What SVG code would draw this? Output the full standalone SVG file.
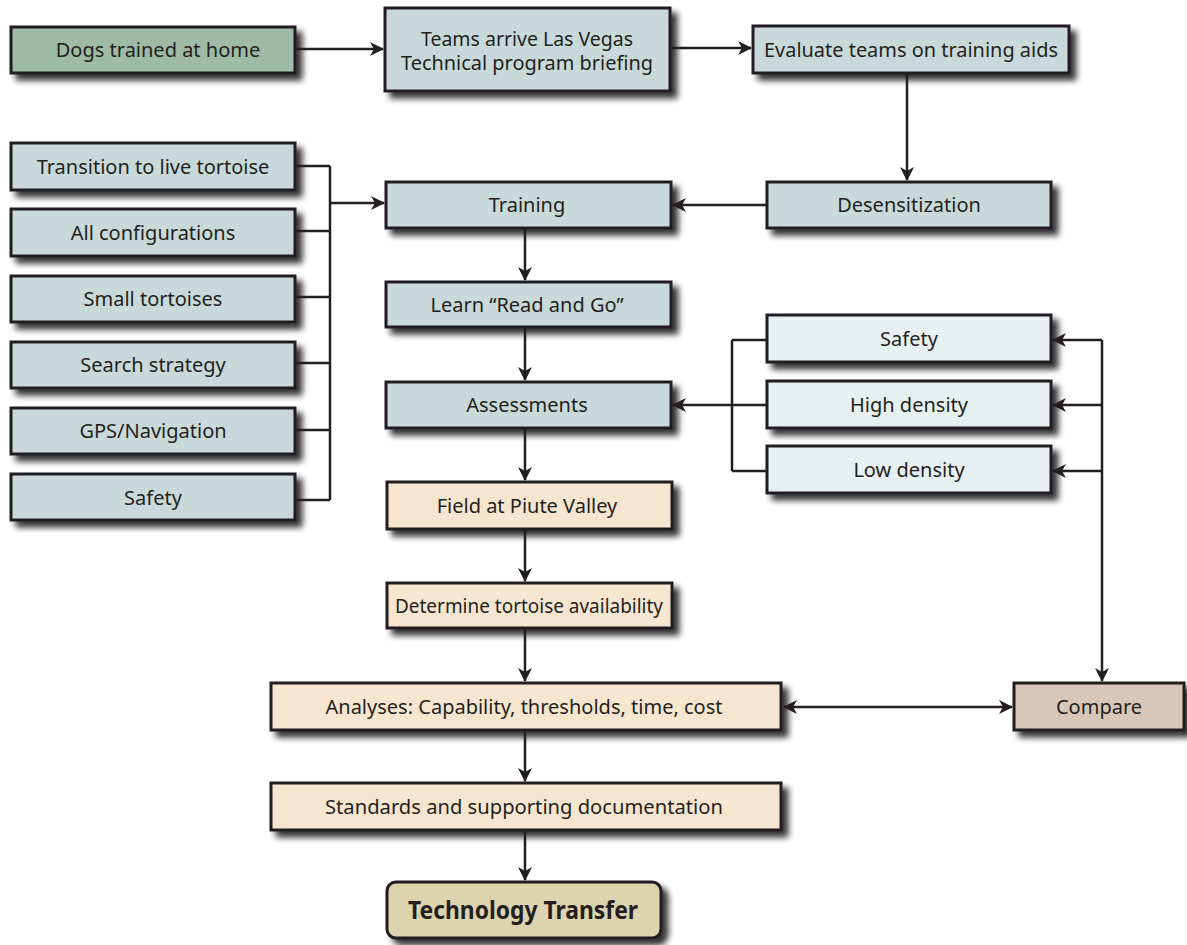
<svg xmlns="http://www.w3.org/2000/svg" width="1187" height="945" viewBox="0 0 1187 945">
<defs>
<filter id="sh" x="-10%" y="-20%" width="130%" height="160%">
<feGaussianBlur in="SourceAlpha" stdDeviation="3"/>
<feOffset dx="6" dy="6" result="b"/>
<feComponentTransfer><feFuncA type="linear" slope="0.8"/></feComponentTransfer>
<feMerge><feMergeNode/><feMergeNode in="SourceGraphic"/></feMerge>
</filter>
<marker id="ah" viewBox="0 0 14 14" refX="13" refY="7" markerWidth="14" markerHeight="14" markerUnits="userSpaceOnUse" orient="auto-start-reverse">
<path d="M0,0 L14,7 L0,14 L4,7 z" fill="#231f20"/>
</marker>
</defs>
<style>
.b{stroke:#231f20;stroke-width:3;filter:url(#sh)}
.bg{fill:#c9d9d9}
.lt{fill:#e7f0f1}
.gr{fill:#9dbba5}
.tn{fill:#f6e6cf}
.cp{fill:#d8c7b9}
.tt{fill:#ddd3ae}
text{font-family:"Noto Sans","Open Sans","Liberation Sans",sans-serif;font-size:20px;fill:#231f20;text-anchor:middle}
.c{stroke:#231f20;stroke-width:2.5;fill:none}
.a{marker-end:url(#ah)}
</style>
<rect width="1187" height="945" fill="#ffffff"/>

<g id="n-dogs"><rect class="b gr" x="11" y="27" width="284" height="46"/><text x="158" y="57">Dogs trained at home</text></g>
<g id="n-teams"><rect class="b bg" x="385" y="8" width="285" height="83"/><text x="527" y="46" style="font-size:19px" textLength="212" lengthAdjust="spacingAndGlyphs">Teams arrive Las Vegas</text><text x="527" y="70" style="font-size:19px" textLength="252" lengthAdjust="spacingAndGlyphs">Technical program briefing</text></g>
<g id="n-evaluate"><rect class="b bg" x="753" y="26" width="316" height="47"/><text x="911" y="57" textLength="294" lengthAdjust="spacingAndGlyphs">Evaluate teams on training aids</text></g>

<g id="n-transition"><rect class="b bg" x="11" y="143" width="284" height="47"/><text x="153" y="174">Transition to live tortoise</text></g>
<g id="n-allconfig"><rect class="b bg" x="11" y="209" width="284" height="47"/><text x="153" y="240">All configurations</text></g>
<g id="n-small"><rect class="b bg" x="11" y="276" width="284" height="46"/><text x="153" y="306">Small tortoises</text></g>
<g id="n-search"><rect class="b bg" x="11" y="342" width="284" height="46"/><text x="153" y="372">Search strategy</text></g>
<g id="n-gps"><rect class="b bg" x="11" y="408" width="284" height="46"/><text x="153" y="438">GPS/Navigation</text></g>
<g id="n-safety-left"><rect class="b bg" x="11" y="474" width="284" height="46"/><text x="153" y="505">Safety</text></g>

<g id="n-training"><rect class="b bg" x="386" y="182" width="285" height="46"/><text x="527" y="212">Training</text></g>
<g id="n-desens"><rect class="b bg" x="767" y="182" width="284" height="46"/><text x="909" y="212">Desensitization</text></g>
<g id="n-learn"><rect class="b bg" x="386" y="282" width="285" height="45"/><text x="527" y="312">Learn “Read and Go”</text></g>
<g id="n-assess"><rect class="b bg" x="386" y="382" width="285" height="46"/><text x="527" y="412">Assessments</text></g>

<g id="n-safety-right"><rect class="b lt" x="767" y="315" width="284" height="47"/><text x="909" y="346">Safety</text></g>
<g id="n-high"><rect class="b lt" x="767" y="381" width="284" height="47"/><text x="909" y="412">High density</text></g>
<g id="n-low"><rect class="b lt" x="767" y="446" width="284" height="47"/><text x="909" y="477">Low density</text></g>

<g id="n-field"><rect class="b tn" x="387" y="482" width="285" height="47"/><text x="527" y="513">Field at Piute Valley</text></g>
<g id="n-determine"><rect class="b tn" x="387" y="583" width="285" height="45"/><text x="529" y="613" textLength="268" lengthAdjust="spacingAndGlyphs">Determine tortoise availability</text></g>
<g id="n-analyses"><rect class="b tn" x="271" y="683" width="510" height="47"/><text x="524" y="714" textLength="397" lengthAdjust="spacingAndGlyphs">Analyses: Capability, thresholds, time, cost</text></g>
<g id="n-compare"><rect class="b cp" x="1014" y="683" width="170" height="47"/><text x="1099" y="714">Compare</text></g>
<g id="n-standards"><rect class="b tn" x="271" y="783" width="510" height="47"/><text x="524" y="814" textLength="398" lengthAdjust="spacingAndGlyphs">Standards and supporting documentation</text></g>
<g id="n-tech"><rect class="b tt" x="387" y="882" width="274" height="56" rx="9"/><text x="523" y="919" style="font-weight:bold;font-size:25px" textLength="230" lengthAdjust="spacingAndGlyphs">Technology Transfer</text></g>

<g id="connectors">
<path class="c a" d="M295,49 H383"/>
<path class="c a" d="M670,48 H751"/>
<path class="c a" d="M907,73 V180"/>
<path class="c a" d="M767,205 H673"/>
<path class="c" d="M295,166 H330 M295,231 H330 M295,297 H330 M295,363 H330 M295,430 H330 M295,500 H330 M330,166 V500"/>
<path class="c a" d="M330,203 H384"/>
<path class="c a" d="M525,228 V280"/>
<path class="c a" d="M525,327 V380"/>
<path class="c a" d="M525,428 V480"/>
<path class="c a" d="M525,529 V581"/>
<path class="c a" d="M525,628 V681"/>
<path class="c a" d="M525,730 V781"/>
<path class="c a" d="M525,830 V880"/>
<path class="c" d="M767,340 H732 M767,405 H732 M767,471 H732 M732,340 V471"/>
<path class="c a" d="M732,405 H673"/>
<path class="c a" d="M1102,340 V681"/>
<path class="c a" d="M1102,340 H1053"/>
<path class="c a" d="M1102,405 H1053"/>
<path class="c a" d="M1102,471 H1053"/>
<path class="c a" d="M784,707 H1012" style="marker-start:url(#ah)"/>
</g>
</svg>
